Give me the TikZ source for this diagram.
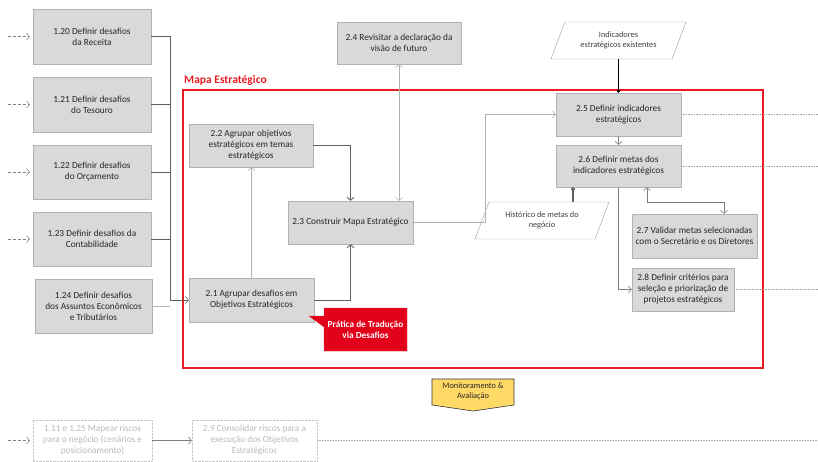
\documentclass[tikz,border=0pt]{standalone}
\usepackage{fontspec}
\setmainfont{Carlito}
\usetikzlibrary{arrows.meta, shapes.geometric}

\definecolor{boxfill}{RGB}{217,217,217}
\definecolor{boxline}{RGB}{178,178,178}
\definecolor{linkgray}{RGB}{128,128,128}
\definecolor{darkgray}{RGB}{96,96,96}
\definecolor{mapred}{RGB}{232,28,36}
\definecolor{callred}{RGB}{226,0,26}
\definecolor{monyellow}{RGB}{255,217,102}

\begin{document}
\begin{tikzpicture}[x = 1pt, y = -1pt, > = {Straight Barb[length = 3pt, width = 7pt]},
	box/.style = {draw = boxline, fill = boxfill, align = center, text = black!85,
		inner sep = 2pt, font = \fontsize{9.3}{11}\selectfont},
	ghost/.style = {draw = gray!45, densely dotted, align = center, text = gray!55,
		inner sep = 2pt, font = \fontsize{9.3}{11}\selectfont},
	datum/.style = {draw = gray!80, fill = white, trapezium, trapezium left angle = 54,
		trapezium right angle = 126, trapezium stretches body, align = center,
		text = black!75, inner sep = 1pt, font = \fontsize{8.3}{10}\selectfont},
	link/.style = {linkgray, line width = 0.6pt},
	lightlink/.style = {gray!60, line width = 0.6pt},
	darklink/.style = {darkgray, line width = 0.9pt},
	feed/.style = {gray, densely dashed, line width = 0.5pt},
	outlink/.style = {gray!70, densely dotted, line width = 0.6pt}]

	\useasboundingbox (0, 0) rectangle (818, 462);

	% Left column of challenges

	\node [box, minimum width = 118pt, minimum height = 55pt] (d120) at (92, 36.5) {1.20 Definir desafios\\da Receita};
	\node [box, minimum width = 118pt, minimum height = 55pt] (d121) at (92, 104.5) {1.21 Definir desafios\\do Tesouro};
	\node [box, minimum width = 118pt, minimum height = 54pt] (d122) at (92, 172) {1.22 Definir desafios\\do Orçamento};
	\node [box, minimum width = 118pt, minimum height = 54pt] (d123) at (92, 239) {1.23 Definir desafios da\\Contabilidade};
	\node [box, minimum width = 117pt, minimum height = 54pt] (d124) at (93.5, 306) {1.24 Definir desafios\\dos Assuntos Econômicos\\e Tributários};

	\foreach \b in {d120, d121, d122, d123}
	{
		\coordinate (\b-in) at ([xshift = -25pt] \b.west);
		\draw [feed, ->] (\b-in) -- ([xshift = -3pt] \b.west);
	}

	% Strategic map frame

	\draw [mapred, line width = 1.1pt] (183, 90) rectangle (763, 368);
	\node [anchor = west, mapred, inner sep = 0pt, font = \fontsize{11.5}{13}\selectfont\bfseries] (maplabel) at (184, 80) {Mapa Estratégico};

	% Steps of the map

	\node [box, minimum width = 124pt, minimum height = 42pt] (a24) at (399, 43) {2.4 Revisitar a declaração da\\visão de futuro};
	\node [box, minimum width = 124pt, minimum height = 43pt] (a22) at (251, 145.5) {2.2 Agrupar objetivos\\estratégicos em temas\\estratégicos};
	\node [box, minimum width = 125pt, minimum height = 43pt] (a23) at (350.5, 222.5) {2.3 Construir Mapa Estratégico};
	\node [box, minimum width = 125pt, minimum height = 44pt] (a21) at (251.5, 300) {2.1 Agrupar desafios em\\Objetivos Estratégicos};
	\node [box, minimum width = 125pt, minimum height = 43pt] (a25) at (618.5, 114.5) {2.5 Definir indicadores\\estratégicos};
	\node [box, minimum width = 125pt, minimum height = 42pt] (a26) at (618.5, 166) {2.6 Definir metas dos\\indicadores estratégicos};
	\node [box, minimum width = 125pt, minimum height = 44pt] (a27) at (694.5, 236) {2.7 Validar metas selecionadas\\com o Secretário e os Diretores};
	\node [box, minimum width = 102pt, minimum height = 43pt] (a28) at (683, 289.5) {2.8 Definir critérios para\\seleção e priorização de\\projetos estratégicos};

	% Data inputs

	\node [datum, minimum width = 135pt, minimum height = 37pt] (ind) at (618.5, 40.5) {Indicadores\\estratégicos existentes};
	\node [datum, minimum width = 134pt, minimum height = 37pt] (hist) at (542, 220.5) {Histórico de metas do\\negócio};

	% Callout

	\draw [fill = callred, draw = callred!80] (324, 308) -- (407, 308) -- (407, 351) -- (324, 351)
		-- (324, 327) -- (309, 316) -- (324, 316) -- cycle;
	\node [white, align = center, font = \fontsize{9.3}{11}\selectfont\bfseries] (trad) at (365.5, 330) {Prática de Tradução\\via Desafios};

	% Connectors into 2.1

	\coordinate (merge) at (170, 300);
	\foreach \b in {d120, d121, d122, d123}
		\draw [darklink, line width = 0.6pt] (\b.east) -- (\b.east -| merge);
	\draw [lightlink] (d124.east) -- (d124.east -| merge);
	\draw [darklink, line width = 0.6pt, ->] (d120.east -| merge) -- (merge) -- (a21.west);

	% Connectors inside the map

	\draw [lightlink, ->] (a21.north) -- (a21.north |- a22.south);
	\draw [darklink, ->] (a21.east) -| (a23.south);
	\draw [darklink, ->] (a22.east) -| (a23.north);
	\draw [lightlink, <->] (a24.south) -- (a24.south |- a23.north);

	\coordinate (bend) at (485, 0);
	\draw [lightlink, ->] (a23.east) -- (a23.east -| bend) |- (a25.west);

	\draw [black, line width = 0.7pt, -{Circle[length = 3.5pt]}] (ind.south) -- (a25.north);
	\draw [link, ->] (a25) -- (a26);
	\draw [darkgray, line width = 1.2pt, -{Circle[length = 4pt]}] ([xshift = 31pt] hist.north) -- ([xshift = 31pt] hist.north |- a26.south);
	\draw [link, ->] (a26.south) |- (a28.west);
	\draw [link, <->] ([xshift = 28.5pt] a26.south) -- ++(0, 15) -| ([xshift = 29.5pt] a27.north);

	% Monitoring flag

	\draw [fill = monyellow, draw = black!80, line width = 0.6pt] (432, 379) -- (514, 379) -- (514, 405)
		-- (473, 411) -- (432, 405) -- cycle;
	\node [align = center, text = black!85, font = \fontsize{8.3}{10}\selectfont] (mon) at (473, 391.5) {Monitoramento \&\\Avaliação};

	% Risk row

	\node [ghost, minimum width = 119pt, minimum height = 41pt] (r111) at (92.5, 440.5) {1.11 e 1.25 Mapear riscos\\para o negócio (cenários e\\posicionamento)};
	\node [ghost, minimum width = 125pt, minimum height = 41pt] (r29) at (254.5, 440.5) {2.9 Consolidar riscos para a\\execução dos Objetivos\\Estratégicos};

	\coordinate (r111-in) at ([xshift = -25pt] r111.west);
	\draw [feed, ->] (r111-in) -- ([xshift = -3pt] r111.west);
	\draw [link, ->] (r111) -- (r29);

	% Outgoing links

	\coordinate (rim) at (818, 0);
	\foreach \b in {a25, a26, a28, r29}
		\draw [outlink] (\b.east) -- (\b.east -| rim);

\end{tikzpicture}
\end{document}
